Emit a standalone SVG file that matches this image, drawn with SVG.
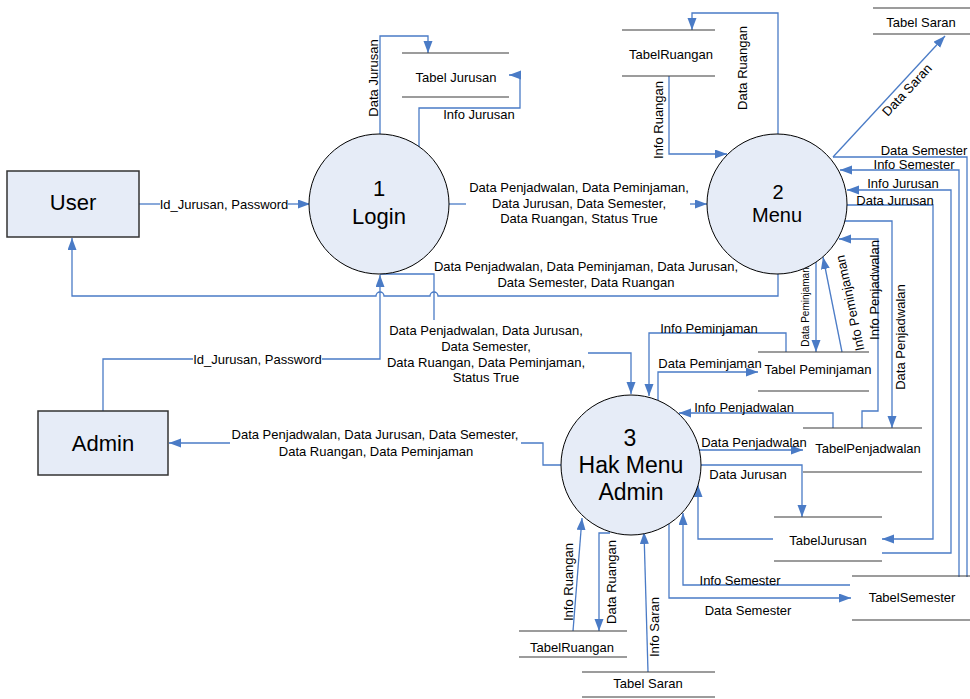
<svg xmlns="http://www.w3.org/2000/svg" width="970" height="699" viewBox="0 0 970 699">
<style>
.t{font-family:"Liberation Sans",Arial,sans-serif;font-size:13px;fill:#000}
.s{font-size:10px}
.big{font-size:22px}
.ent{fill:#E6ECF7;stroke:#333;stroke-width:1.5}
.proc{fill:#E6ECF7;stroke:#000;stroke-width:1}
.ds{stroke:#3a3a3a;stroke-width:1.2}
.c{fill:none;stroke:#4A7BC6;stroke-width:1.3}
.ca{fill:none;stroke:#4A7BC6;stroke-width:1.3;marker-end:url(#ar)}
</style>
<defs>
<marker id="ar" markerUnits="userSpaceOnUse" markerWidth="13" markerHeight="10" refX="12" refY="4.5" orient="auto">
<path d="M0,0 L12,4.5 L0,9 z" fill="#4A7BC6"/>
</marker>
</defs>
<rect width="970" height="699" fill="#fff"/>

<g id="connectors">
<!-- User -> Login -->
<path class="c" d="M139,204 H160"/><path class="ca" d="M288,204 H310"/>
<text class="t" x="224" y="208.5" text-anchor="middle">Id_Jurusan, Password</text>
<!-- Admin -> Login -->
<path class="c" d="M103,411 V359 H193"/><path class="ca" d="M322,359 H380 V275"/>
<text class="t" x="257.5" y="363.5" text-anchor="middle">Id_Jurusan, Password</text>
<!-- Menu -> User -->
<path class="ca" d="M778,274 V296 H438 A4,4 0 0 0 430,296 H384 A4,4 0 0 0 376,296 H72 V238"/>
<text class="t" x="586" y="271" text-anchor="middle">Data Penjadwalan, Data Peminjaman, Data Jurusan,</text>
<text class="t" x="586" y="286.5" text-anchor="middle">Data Semester, Data Ruangan</text>
<!-- Login -> Hak Menu -->
<path class="c" d="M380,274 H434 V320"/><path class="ca" d="M588,353 H631 V394"/>
<text class="t" x="486" y="334.5" text-anchor="middle">Data Penjadwalan, Data Jurusan,</text>
<text class="t" x="486" y="350.5" text-anchor="middle">Data Semester,</text>
<text class="t" x="486" y="366.5" text-anchor="middle">Data Ruangan, Data Peminjaman,</text>
<text class="t" x="486" y="381.5" text-anchor="middle">Status True</text>
<!-- Login -> Menu -->
<path class="c" d="M449,204 H466"/><path class="ca" d="M690,204 H707"/>
<text class="t" x="579" y="191.5" text-anchor="middle">Data Penjadwalan, Data Peminjaman,</text>
<text class="t" x="579" y="207.5" text-anchor="middle">Data Jurusan, Data Semester,</text>
<text class="t" x="579" y="222.5" text-anchor="middle">Data Ruangan, Status True</text>
<!-- Login <-> Tabel Jurusan -->
<path class="ca" d="M380,134 V36 H428 V53"/>
<text class="t" transform="translate(373.5,78) rotate(-90)" y="4.5" text-anchor="middle">Data Jurusan</text>
<path class="ca" d="M419,147 V108 H520 V75 H509"/>
<text class="t" x="479" y="118.5" text-anchor="middle">Info Jurusan</text>
<!-- Menu <-> TabelRuangan -->
<path class="ca" d="M778,134 V13 H692 V30"/>
<text class="t" transform="translate(742,68) rotate(-90)" y="4.5" text-anchor="middle">Data Ruangan</text>
<path class="ca" d="M669,76 V154 H727"/>
<text class="t" transform="translate(658,120) rotate(-90)" y="4.5" text-anchor="middle">Info Ruangan</text>
<!-- Menu -> Tabel Saran -->
<path class="ca" d="M833,157 L945,36"/>
<text class="t" transform="translate(907,90) rotate(-47)" y="4.5" text-anchor="middle">Data Saran</text>
<!-- Menu <-> TabelSemester / TabelJurusan -->
<path class="c" d="M833,157 H967 V577"/>
<text class="t" x="924" y="154.5" text-anchor="middle">Data Semester</text>
<path class="ca" d="M959,577 V170 H840"/>
<text class="t" x="914" y="168.5" text-anchor="middle">Info Semester</text>
<path class="ca" d="M882,553 H951 V190 H847"/>
<text class="t" x="903" y="187.5" text-anchor="middle">Info Jurusan</text>
<path class="ca" d="M847,205 H933 V539 H882"/>
<text class="t" x="895" y="204.5" text-anchor="middle">Data Jurusan</text>
<!-- Menu <-> TabelPenjadwalan -->
<path class="ca" d="M844,221 H892 V428"/>
<text class="t" transform="translate(900,337) rotate(-90)" y="4.5" text-anchor="middle">Data Penjadwalan</text>
<path class="ca" d="M862,428 V411 H878 V239 H839"/>
<text class="t" transform="translate(874,290) rotate(-90)" y="4.5" text-anchor="middle">Info Penjadwalan</text>
<!-- Menu <-> Tabel Peminjaman -->
<path class="ca" d="M816,262 V352"/>
<text class="t s" transform="translate(805,307) rotate(-90)" y="3.5" text-anchor="middle">Data Peminjaman</text>
<path class="ca" d="M842,352 L823,257"/>
<text class="t" transform="translate(850,303) rotate(-102)" y="4.5" text-anchor="middle">Info Peminjaman</text>
<!-- Hak Menu <-> Tabel Peminjaman -->
<path class="ca" d="M786,352 V333 H649 V396"/>
<text class="t" x="709" y="332.5" text-anchor="middle">Info Peminjaman</text>
<path class="ca" d="M658,400 V372 H758"/>
<text class="t" x="710" y="367.5" text-anchor="middle">Data Peminjaman</text>
<!-- Hak Menu <-> TabelPenjadwalan -->
<path class="ca" d="M833,428 V413 H679"/>
<text class="t" x="744" y="411.5" text-anchor="middle">Info Penjadwalan</text>
<path class="ca" d="M694,437 V450 H803"/>
<text class="t" x="754" y="446.5" text-anchor="middle">Data Penjadwalan</text>
<!-- Hak Menu <-> TabelJurusan -->
<path class="ca" d="M700,465 H802 V517"/>
<text class="t" x="748" y="478.5" text-anchor="middle">Data Jurusan</text>
<path class="ca" d="M773,539 H698 V485"/>
<!-- Hak Menu <-> TabelSemester -->
<path class="ca" d="M850,585 H683 V513"/>
<text class="t" x="740" y="584.5" text-anchor="middle">Info Semester</text>
<path class="ca" d="M669,524 V598 H851"/>
<text class="t" x="748" y="614.5" text-anchor="middle">Data Semester</text>
<!-- Hak Menu <-> bottom stores -->
<path class="ca" d="M648,672 L644,532"/>
<text class="t" transform="translate(654,627) rotate(-90)" y="4.5" text-anchor="middle">Info Saran</text>
<path class="ca" d="M573,631 L582,518"/>
<text class="t" transform="translate(568,582) rotate(-90)" y="4.5" text-anchor="middle">Info Ruangan</text>
<path class="ca" d="M610,533 H599 V631"/>
<text class="t" transform="translate(611,582) rotate(-90)" y="4.5" text-anchor="middle">Data Ruangan</text>
<!-- Hak Menu -> Admin -->
<path class="c" d="M561,465 H543 V443 H521"/><path class="ca" d="M230,443 H169"/>
<text class="t" x="375" y="438.5" text-anchor="middle">Data Penjadwalan, Data Jurusan, Data Semester,</text>
<text class="t" x="376" y="455.5" text-anchor="middle">Data Ruangan, Data Peminjaman</text>
</g>

<g id="user"><rect class="ent" x="7" y="171" width="132" height="66"/><text class="t big" x="73" y="210" text-anchor="middle">User</text></g>
<g id="admin"><rect class="ent" x="38" y="411" width="130" height="64"/><text class="t big" x="103" y="451" text-anchor="middle">Admin</text></g>

<g id="login"><circle class="proc" cx="379" cy="204" r="70"/><text class="t big" x="379" y="196" text-anchor="middle">1</text><text class="t big" x="379" y="224" text-anchor="middle">Login</text></g>
<g id="menu"><circle class="proc" cx="777" cy="204" r="70"/><text class="t big" style="font-size:20px" x="778" y="199" text-anchor="middle">2</text><text class="t big" style="font-size:20px" x="777" y="222" text-anchor="middle">Menu</text></g>
<g id="hakmenu"><circle class="proc" cx="631" cy="465" r="70"/><text class="t big" style="font-size:23px" x="630" y="446" text-anchor="middle">3</text><text class="t big" style="font-size:23px" x="631" y="473" text-anchor="middle">Hak Menu</text><text class="t big" style="font-size:23px" x="631" y="500" text-anchor="middle">Admin</text></g>

<g id="tabel-jurusan-1"><line class="ds" x1="402" y1="53" x2="509" y2="53"/><line class="ds" x1="402" y1="97" x2="509" y2="97"/><text class="t" x="456" y="81.5" text-anchor="middle">Tabel Jurusan</text></g>
<g id="tabel-ruangan-1"><line class="ds" x1="622" y1="30" x2="715" y2="30"/><line class="ds" x1="622" y1="76" x2="715" y2="76"/><text class="t" x="671" y="58.5" text-anchor="middle">TabelRuangan</text></g>
<g id="tabel-saran-1"><line class="ds" x1="873" y1="8" x2="970" y2="8"/><line class="ds" x1="873" y1="34" x2="970" y2="34"/><text class="t" x="921" y="26.5" text-anchor="middle">Tabel Saran</text></g>
<g id="tabel-peminjaman"><line class="ds" x1="758" y1="352" x2="869" y2="352"/><line class="ds" x1="758" y1="391" x2="869" y2="391"/><text class="t" x="818" y="373.5" text-anchor="middle">Tabel Peminjaman</text></g>
<g id="tabel-penjadwalan"><line class="ds" x1="803" y1="428" x2="922" y2="428"/><line class="ds" x1="803" y1="472" x2="922" y2="472"/><text class="t" x="868" y="452.5" text-anchor="middle">TabelPenjadwalan</text></g>
<g id="tabel-jurusan-2"><line class="ds" x1="774" y1="517" x2="882" y2="517"/><line class="ds" x1="774" y1="561" x2="882" y2="561"/><text class="t" x="828" y="544.5" text-anchor="middle">TabelJurusan</text></g>
<g id="tabel-semester"><line class="ds" x1="852" y1="576" x2="970" y2="576"/><line class="ds" x1="852" y1="620" x2="970" y2="620"/><text class="t" x="912" y="601.5" text-anchor="middle">TabelSemester</text></g>
<g id="tabel-ruangan-2"><line class="ds" x1="519" y1="631" x2="627" y2="631"/><line class="ds" x1="519" y1="657" x2="627" y2="657"/><text class="t" x="572" y="651.5" text-anchor="middle">TabelRuangan</text></g>
<g id="tabel-saran-2"><line class="ds" x1="582" y1="672" x2="715" y2="672"/><line class="ds" x1="582" y1="697" x2="715" y2="697"/><text class="t" x="648" y="687.5" text-anchor="middle">Tabel Saran</text></g>
</svg>
